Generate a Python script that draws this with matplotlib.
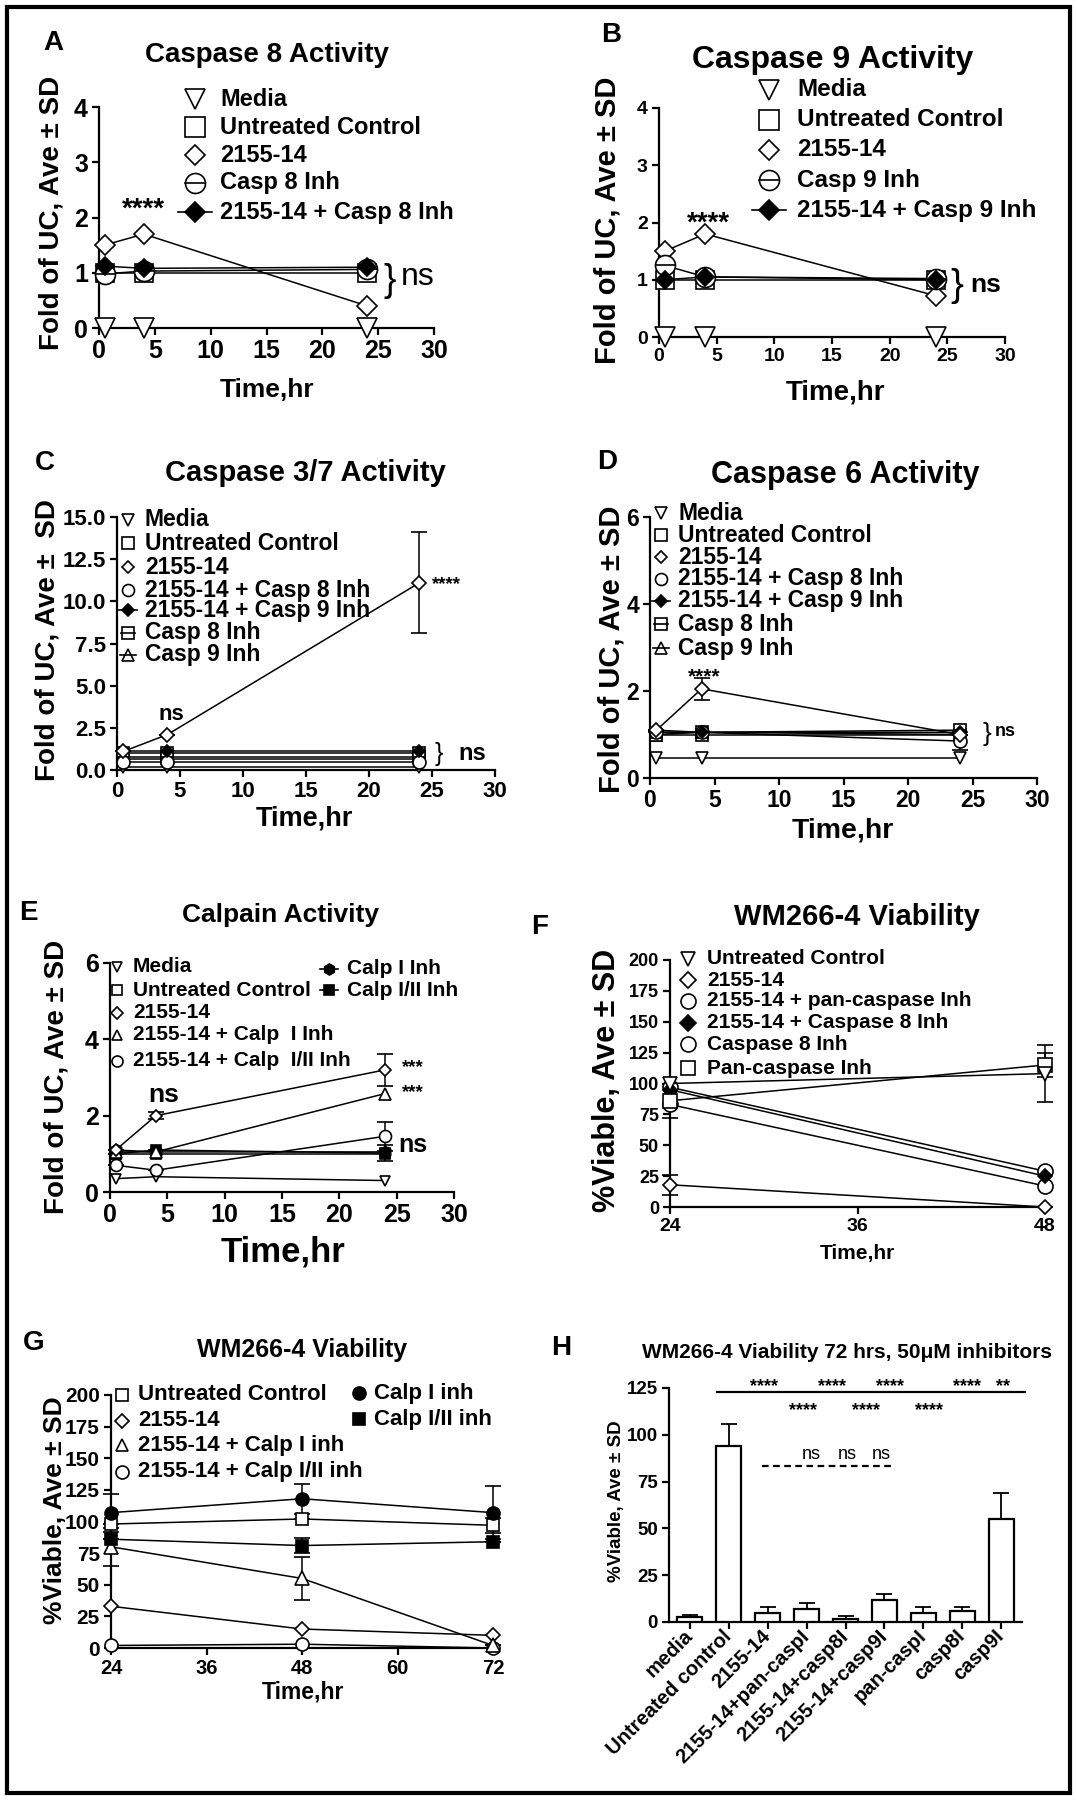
import matplotlib
matplotlib.use("Agg")
import matplotlib.pyplot as plt
from matplotlib.patches import Rectangle

plt.rcParams['font.family'] = ['Liberation Sans', 'DejaVu Sans']

W, H = 1077, 1800

# ---------------- data ----------------
t_short = [0.5, 4, 24]

# A: Caspase 8 activity (fold of UC)
a_media = [0, 0, 0]
a_uc = [1, 1, 1]
a_drug = [1.5, 1.7, 0.4]
a_inh = [0.98, 1.03, 1.06]
a_combo = [1.12, 1.08, 1.1]

# B: Caspase 9 activity
b_media = [0, 0, 0]
b_uc = [1, 1, 1]
b_drug = [1.5, 1.8, 0.72]
b_inh = [1.25, 1.05, 1.02]
b_combo = [1.0, 1.05, 1.0]

# C: Caspase 3/7 activity
c_media = [0.2, 0.2, 0.2]
c_uc = [1, 1, 1]
c_drug = [1.1, 2.1, 11.1]
c_drug_sd = [0, 0, 3.0]
c_drug_c8 = [0.5, 0.5, 0.5]
c_drug_c9 = [1.1, 1.1, 1.1]
c_c8 = [0.8, 0.8, 0.8]
c_c9 = [0.65, 0.65, 0.65]

# D: Caspase 6 activity
d_media = [0.45, 0.45, 0.45]
d_uc = [1, 1, 1]
d_drug = [1.1, 2.05, 1.0]
d_drug_sd = [0, 0.25, 0]
d_drug_c8 = [1.05, 1.05, 0.85]
d_drug_c8_sd = [0, 0, 0.2]
d_drug_c9 = [1.1, 1.05, 1.05]
d_c8 = [1.0, 1.05, 1.1]
d_c9 = [1.05, 1.05, 1.0]

# E: Calpain activity
e_media = [0.35, 0.4, 0.3]
e_uc = [1, 1, 1]
e_drug = [1.1, 2.0, 3.2]
e_drug_sd = [0, 0.1, 0.42]
e_drug_cI = [1.05, 1.05, 2.58]
e_drug_cII = [0.7, 0.57, 1.46]
e_drug_cII_sd = [0, 0, 0.38]
e_cI = [1.1, 1.05, 1.05]
e_cII = [1.0, 1.1, 1.02]
e_cII_sd = [0, 0, 0.2]

# F: WM266-4 viability, caspase inhibitors
t_f = [24, 48]
f_uc = [100, 108]
f_uc_sd = [0, 23]
f_drug = [18, 0]
f_drug_sd = [8, 0]
f_drug_pan = [97, 29]
f_drug_c8 = [95, 25]
f_c8 = [83, 17]
f_pan = [86, 115]
f_pan_sd = [14, 10]

# G: WM266-4 viability, calpain inhibitors
t_g = [24, 48, 72]
g_uc = [98, 102, 97]
g_uc_sd = [0, 0, 6]
g_drug = [33, 15, 10]
g_drug_cI = [80, 55, 2]
g_drug_cI_sd = [15, 17, 0]
g_drug_cII = [2, 3, 0]
g_cI = [107, 118, 107]
g_cI_sd = [15, 12, 21]
g_cII = [86, 81, 84]
g_cII_sd = [0, 6, 0]

# H: viability at 72 h
h_labels = ['media', 'Untreated control', '2155-14', '2155-14+pan-caspI',
            '2155-14+casp8I', '2155-14+casp9I', 'pan-caspI', 'casp8I', 'casp9I']
h_vals = [2.8, 94, 5, 7, 1.7, 11.5, 5, 6, 55]
h_sd = [1, 12, 3, 3, 1.5, 3.2, 3, 2, 14]

# ---------------- helpers ----------------
fig = plt.figure(figsize=(W / 100, H / 100), dpi=100)


def px(p):
    # marker size in points from pixels
    return p / 1.389


def panel(x0, x1, y0, y1, xlim, ylim, xt, yt, fs, xfs=None, ylab=None):
    ax = fig.add_axes([x0 / W, 1 - y1 / H, (x1 - x0) / W, (y1 - y0) / H])
    ax.patch.set_alpha(0)
    for s in ('top', 'right'):
        ax.spines[s].set_visible(False)
    for s in ('left', 'bottom'):
        ax.spines[s].set_linewidth(1.6)
    ax.set_xlim(xlim)
    ax.set_ylim(ylim)
    ax.set_xticks(xt, [str(v) for v in xt], fontsize=xfs or fs, fontweight='bold')
    ax.set_yticks(yt, ylab or [str(v) for v in yt], fontsize=fs, fontweight='bold')
    ax.tick_params(width=1.6, length=5, pad=3)
    return ax


def series(ax, x, y, m, size, fc='white', sd=None, z=3, bar=False):
    ms = px(size) / (1.414 if m == 'D' else 1)
    ax.errorbar(x, y, yerr=sd, color='k', lw=1.1, marker=m, ms=ms, mfc=fc, mec='k',
                mew=1.2, capsize=6, elinewidth=1.1, capthick=1.1, zorder=z, clip_on=False)
    if bar:
        # Prism-style marker with a horizontal stroke through it
        ax.plot(x, y, ls='none', marker='_', ms=px(size), mew=1.2, color='k',
                zorder=z + 0.1, clip_on=False)


ov = fig.add_axes([0, 0, 1, 1])
ov.set_xlim(0, W)
ov.set_ylim(H, 0)
ov.axis('off')


def legend(entries, xm, xt, rows, fs, size):
    for (m, fc, bar, label), y in zip(entries, rows):
        ms = px(size) / (1.414 if m == 'D' else 1)
        ov.plot([xm], [y], marker=m, ms=ms, mfc=fc, mec='k', mew=1.2, ls='none', zorder=2)
        if bar:
            ov.plot([xm - bar, xm + bar], [y, y], color='k', lw=1.2, zorder=3)
        ov.text(xt, y, label, fontsize=fs, fontweight='bold', va='center', ha='left')


def label(x, y, s, fs, rot=0, weight='bold'):
    ov.text(x, y, s, fontsize=fs, fontweight=weight, ha='center', va='center', rotation=rot)


ylab_fold = 'Fold of UC, Ave \u00b1 SD'
ylab_via = '%Viable, Ave \u00b1 SD'

# ---------------- A ----------------
ax = panel(99, 434, 107, 328, (0, 30), (0, 4), [0, 5, 10, 15, 20, 25, 30], [0, 1, 2, 3, 4], 18)
series(ax, t_short, a_media, 'v', 20)
series(ax, t_short, a_uc, 's', 19)
series(ax, t_short, a_drug, 'D', 19)
series(ax, t_short, a_inh, 'o', 20, bar=True)
series(ax, t_short, a_combo, 'D', 17, fc='black')
ax.text(4, 2.15, '****', fontsize=20, fontweight='bold', ha='center', va='center')
ax.text(26, 0.85, '}', fontsize=27, ha='center', va='center', clip_on=False)
ax.text(27.0, 0.92, 'ns', fontsize=23, ha='left', va='center', clip_on=False)
label(53, 43, 'A', 20)
label(267, 55, 'Caspase 8 Activity', 20)
label(52, 213, ylab_fold, 20, rot=90)
label(267, 390, 'Time,hr', 19)
legend([('v', 'white', 0, 'Media'), ('s', 'white', 0, 'Untreated Control'),
        ('D', 'white', 0, '2155-14'), ('o', 'white', 10, 'Casp 8 Inh'),
        ('D', 'black', 17, '2155-14 + Casp 8 Inh')],
       195, 220, [99, 127, 155, 183, 212], 17, 20)

# ---------------- B ----------------
ax = panel(659, 1005, 108, 337, (0, 30), (0, 4), [0, 5, 10, 15, 20, 25, 30], [0, 1, 2, 3, 4], 14)
series(ax, t_short, b_media, 'v', 20)
series(ax, t_short, b_uc, 's', 19)
series(ax, t_short, b_drug, 'D', 19)
series(ax, t_short, b_inh, 'o', 20, bar=True)
series(ax, t_short, b_combo, 'D', 17, fc='black')
ax.text(4.3, 1.98, '****', fontsize=20, fontweight='bold', ha='center', va='center')
ax.text(25.8, 0.89, '}', fontsize=28, ha='center', va='center', clip_on=False)
ax.text(27.0, 0.9, 'ns', fontsize=19, fontweight='bold', ha='left', va='center', clip_on=False)
label(611, 35, 'B', 20)
label(833, 60, 'Caspase 9 Activity', 23)
label(607, 220, ylab_fold, 21, rot=90)
label(835, 393, 'Time,hr', 20)
legend([('v', 'white', 0, 'Media'), ('s', 'white', 0, 'Untreated Control'),
        ('D', 'white', 0, '2155-14'), ('o', 'white', 10, 'Casp 9 Inh'),
        ('D', 'black', 17, '2155-14 + Casp 9 Inh')],
       769, 797, [90, 120, 150, 180, 210], 17.5, 20)

# ---------------- C ----------------
ax = panel(117, 495, 517, 770, (0, 30), (0, 15), [0, 5, 10, 15, 20, 25, 30],
           [0, 2.5, 5, 7.5, 10, 12.5, 15], 16,
           ylab=['0.0', '2.5', '5.0', '7.5', '10.0', '12.5', '15.0'])
series(ax, t_short, c_media, 'v', 13)
series(ax, t_short, c_uc, 's', 13)
series(ax, t_short, c_c8, 's', 13, bar=True)
series(ax, t_short, c_c9, '^', 13, bar=True)
series(ax, t_short, c_drug_c8, 'o', 13)
series(ax, t_short, c_drug_c9, 'D', 12, fc='black')
series(ax, t_short, c_drug, 'D', 14, sd=c_drug_sd)
ax.text(25.0, 11.0, '****', fontsize=13.5, fontweight='bold', ha='left', va='center')
ax.text(4.3, 3.3, 'ns', fontsize=16, fontweight='bold', ha='center', va='center')
ax.text(25.5, 0.95, '}', fontsize=18, ha='center', va='center', clip_on=False)
ax.text(27.1, 1.0, 'ns', fontsize=17, fontweight='bold', ha='left', va='center', clip_on=False)
label(45, 463, 'C', 20)
label(305, 473, 'Caspase 3/7 Activity', 21)
label(48, 640, 'Fold of UC, Ave \u00b1  SD', 20, rot=90)
label(304, 818, 'Time,hr', 19.5)
legend([('v', 'white', 0, 'Media'), ('s', 'white', 0, 'Untreated Control'),
        ('D', 'white', 0, '2155-14'), ('o', 'white', 0, '2155-14 + Casp 8 Inh'),
        ('D', 'black', 9, '2155-14 + Casp 9 Inh'), ('s', 'white', 7, 'Casp 8 Inh'),
        ('^', 'white', 8, 'Casp 9 Inh')],
       128, 145, [520, 543, 567, 590, 610, 633, 655], 16.5, 12)

# ---------------- D ----------------
ax = panel(650, 1037, 517, 778, (0, 30), (0, 6), [0, 5, 10, 15, 20, 25, 30], [0, 2, 4, 6], 16.5)
series(ax, t_short, d_media, 'v', 13)
series(ax, t_short, d_uc, 's', 13)
series(ax, t_short, d_c8, 's', 13, bar=True)
series(ax, t_short, d_c9, '^', 13, bar=True)
series(ax, t_short, d_drug_c8, 'o', 13, sd=d_drug_c8_sd)
series(ax, t_short, d_drug_c9, 'D', 12, fc='black')
series(ax, t_short, d_drug, 'D', 14, sd=d_drug_sd)
ax.text(4.2, 2.33, '****', fontsize=15, fontweight='bold', ha='center', va='center')
ax.text(26.1, 1.02, '}', fontsize=19, ha='center', va='center', clip_on=False)
ax.text(26.7, 1.06, 'ns', fontsize=13, fontweight='bold', ha='left', va='center', clip_on=False)
label(607, 462, 'D', 20)
label(845, 475, 'Caspase 6 Activity', 22)
label(612, 649, ylab_fold, 21, rot=90)
label(843, 830, 'Time,hr', 20.5)
legend([('v', 'white', 0, 'Media'), ('s', 'white', 0, 'Untreated Control'),
        ('D', 'white', 0, '2155-14'), ('o', 'white', 0, '2155-14 + Casp 8 Inh'),
        ('D', 'black', 9, '2155-14 + Casp 9 Inh'), ('s', 'white', 7, 'Casp 8 Inh'),
        ('^', 'white', 8, 'Casp 9 Inh')],
       661, 678, [513, 535, 557, 579, 601, 624, 648], 16.5, 12)

# ---------------- E ----------------
ax = panel(110, 454, 963, 1192, (0, 30), (0, 6), [0, 5, 10, 15, 20, 25, 30], [0, 2, 4, 6], 18)
series(ax, t_short, e_media, 'v', 11)
series(ax, t_short, e_uc, 's', 11)
series(ax, t_short, e_cI, 'h', 12, fc='black')
series(ax, t_short, e_cII, 's', 11, fc='black', sd=e_cII_sd)
series(ax, t_short, e_drug_cII, 'o', 12, sd=e_drug_cII_sd)
series(ax, t_short, e_drug_cI, '^', 12)
series(ax, t_short, e_drug, 'D', 12, sd=e_drug_sd)
ax.text(25.5, 3.25, '***', fontsize=13.5, fontweight='bold', ha='left', va='center')
ax.text(25.5, 2.6, '***', fontsize=13.5, fontweight='bold', ha='left', va='center')
ax.text(4.7, 2.54, 'ns', fontsize=19, fontweight='bold', ha='center', va='center')
ax.text(25.1, 1.23, 'ns', fontsize=18, fontweight='bold', ha='left', va='center')
label(28, 913, 'E', 20)
label(281, 915, 'Calpain Activity', 19)
label(57, 1077, ylab_fold, 20, rot=90)
label(283, 1252, 'Time,hr', 25)
legend([('v', 'white', 0, 'Media'), ('s', 'white', 0, 'Untreated Control'),
        ('D', 'white', 0, '2155-14'), ('^', 'white', 0, '2155-14 + Calp  I Inh'),
        ('o', 'white', 0, '2155-14 + Calp  I/II Inh')],
       117, 133, [967, 990, 1013, 1035, 1061], 15, 11)
legend([('h', 'black', 9, 'Calp I Inh'), ('s', 'black', 9, 'Calp I/II Inh')],
       329, 347, [969, 990], 15, 11)

# ---------------- F ----------------
ax = panel(670, 1045, 960, 1207, (24, 48), (0, 200), [24, 36, 48],
           [0, 25, 50, 75, 100, 125, 150, 175, 200], 13, xfs=14)
series(ax, t_f, f_drug, 'D', 14, sd=f_drug_sd)
series(ax, t_f, f_c8, 'o', 15)
series(ax, t_f, f_drug_pan, 'o', 15)
series(ax, t_f, f_drug_c8, 'D', 13, fc='black')
series(ax, t_f, f_pan, 's', 15, sd=f_pan_sd)
series(ax, t_f, f_uc, 'v', 15, sd=f_uc_sd)
label(540, 927, 'F', 20)
label(857, 917, 'WM266-4 Viability', 21)
label(607, 1080, ylab_via, 22, rot=90)
label(857, 1253, 'Time,hr', 15)
legend([('v', 'white', 0, 'Untreated Control'), ('D', 'white', 0, '2155-14'),
        ('o', 'white', 0, '2155-14 + pan-caspase Inh'), ('D', 'black', 0, '2155-14 + Caspase 8 Inh'),
        ('o', 'white', 0, 'Caspase 8 Inh'), ('s', 'white', 0, 'Pan-caspase Inh')],
       688, 707, [959, 980, 1001, 1023, 1044, 1068], 15, 15)

# ---------------- G ----------------
ax = panel(111, 493, 1395, 1648, (24, 72), (0, 200), [24, 36, 48, 60, 72],
           [0, 25, 50, 75, 100, 125, 150, 175, 200], 15, xfs=14.5)
series(ax, t_g, g_drug_cII, 'o', 13)
series(ax, t_g, g_drug, 'D', 13)
series(ax, t_g, g_drug_cI, '^', 14, sd=g_drug_cI_sd)
series(ax, t_g, g_cII, 's', 13, fc='black', sd=g_cII_sd)
series(ax, t_g, g_uc, 's', 13, sd=g_uc_sd)
series(ax, t_g, g_cI, 'o', 13, fc='black', sd=g_cI_sd)
label(34, 1343, 'G', 20)
label(302, 1350, 'WM266-4 Viability', 18)
label(55, 1510, ylab_via, 19, rot=90)
label(303, 1692, 'Time,hr', 16.5)
legend([('s', 'white', 0, 'Untreated Control'), ('D', 'white', 0, '2155-14'),
        ('^', 'white', 0, '2155-14 + Calp I inh'), ('o', 'white', 0, '2155-14 + Calp I/II inh')],
       122, 138, [1395, 1421, 1445, 1472], 16, 13)
legend([('o', 'black', 0, 'Calp I inh'), ('s', 'black', 0, 'Calp I/II inh')],
       359, 374, [1393, 1419], 16, 13)

# ---------------- H ----------------
ax = fig.add_axes([669 / W, 1 - 1622 / H, (1022 - 669) / W, (1622 - 1388) / H])
ax.patch.set_alpha(0)
for s in ('top', 'right'):
    ax.spines[s].set_visible(False)
for s in ('left', 'bottom'):
    ax.spines[s].set_linewidth(1.6)
pos = list(range(len(h_vals)))
ax.bar(pos, h_vals, width=0.64, color='white', edgecolor='black', linewidth=1.6,
       yerr=[[0] * len(h_sd), h_sd], error_kw=dict(ecolor='black', elinewidth=1.3,
                                                   capsize=6, capthick=1.3), zorder=3)
ax.set_xlim(-0.53, 8.53)
ax.set_ylim(0, 125)
ax.set_yticks([0, 25, 50, 75, 100, 125], ['0', '25', '50', '75', '100', '125'],
              fontsize=13.5, fontweight='bold')
ax.set_xticks(pos, h_labels, fontsize=14.5, fontweight='bold', rotation=45,
              ha='right', va='center', rotation_mode='anchor')
ax.tick_params(width=1.6, length=5, pad=3)
ax.plot([0.7, 8.6], [123, 123], color='k', lw=1.6, clip_on=False)
for xs in [1.9, 3.65, 5.14, 7.12]:
    ax.text(xs, 125.5, '****', fontsize=13, fontweight='bold', ha='center', va='center')
ax.text(8.04, 125.5, '**', fontsize=13, fontweight='bold', ha='center', va='center')
for xs in [2.9, 4.53, 6.15]:
    ax.text(xs, 113, '****', fontsize=13, fontweight='bold', ha='center', va='center')
ax.plot([1.85, 5.23], [83.5, 83.5], color='k', lw=1.6, ls=(0, (3, 2)))
for xs in [3.12, 4.04, 4.92]:
    ax.text(xs, 89.5, 'ns', fontsize=13, ha='center', va='center')
label(561, 1348, 'H', 20)
label(847, 1353, 'WM266-4 Viability 72 hrs, 50\u03bcM inhibitors', 15)
label(616, 1501, ylab_via, 13.5, rot=90)

# outer frame
ov.add_patch(Rectangle((7, 7), 1063, 1786, fill=False, lw=3, edgecolor='black'))

fig.savefig('out.png', dpi=100)
